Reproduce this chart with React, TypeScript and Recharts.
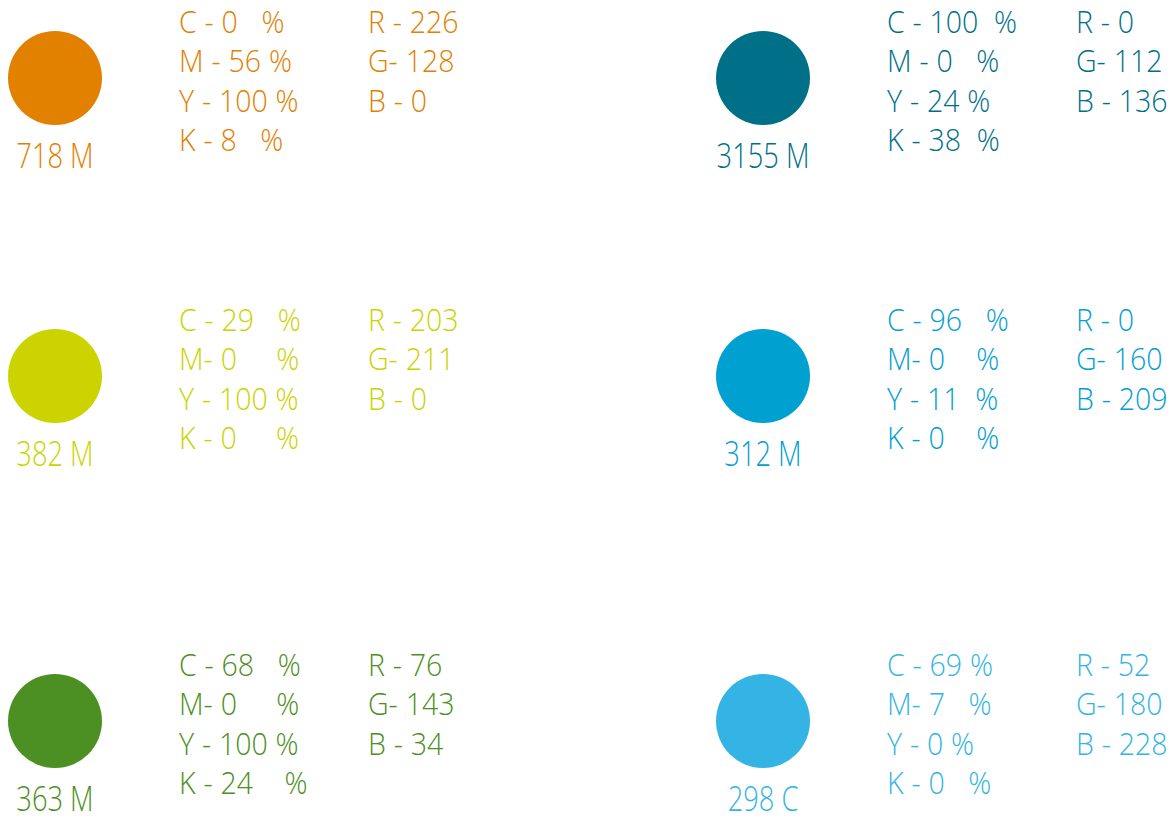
import React from 'react';
import { ScatterChart, Scatter, XAxis, YAxis } from 'recharts';

// swatch order: orange, teal, yellow, blue, green, light blue
const swatchNames = ['718 M', '3155 M', '382 M', '312 M', '363 M', '298 C'];
const gridCols = [0, 1, 0, 1, 0, 1];
const gridRows = [0, 0, 1, 1, 2, 2];
const redValues = [226, 0, 203, 0, 76, 52];
const greenValues = [128, 112, 211, 160, 143, 180];
const blueValues = [0, 136, 0, 209, 34, 228];
const cmykLabels = [
  ['C - 0   %', 'M - 56 %', 'Y - 100 %', 'K - 8   %'],
  ['C - 100  %', 'M - 0   %', 'Y - 24 %', 'K - 38  %'],
  ['C - 29   %', 'M- 0     %', 'Y - 100 %', 'K - 0     %'],
  ['C - 96   %', 'M- 0    %', 'Y - 11  %', 'K - 0    %'],
  ['C - 68   %', 'M- 0     %', 'Y - 100 %', 'K - 24    %'],
  ['C - 69 %', 'M- 7   %', 'Y - 0 %', 'K - 0   %'],
];

const swatches = swatchNames.map((name, i) => ({
  name,
  col: gridCols[i],
  row: gridRows[i],
  color: `rgb(${redValues[i]}, ${greenValues[i]}, ${blueValues[i]})`,
  cmyk: cmykLabels[i],
  rgb: [`R - ${redValues[i]}`, `G- ${greenValues[i]}`, `B - ${blueValues[i]}`],
}));

// one strip per row of swatches, stacked top to bottom
const rowHeights = [156, 440, 250];
const FONT = '"Open Sans", sans-serif';
const blockStyle = {
  fontFamily: FONT,
  fontSize: 31,
  fontWeight: 300,
  wordSpacing: 0.5,
  whiteSpace: 'pre',
} as const;

// text in the original is a narrow humanist face, so squeeze Open Sans horizontally
const Line = ({ x, y, fill, children }: any) => (
  <text transform={`translate(${x},${y}) scale(0.92,1)`} fill={fill} style={blockStyle}>
    {children}
  </text>
);

const Swatch = (props: any) => {
  const { cx, cy, payload } = props;
  const lineY = (i: number) => cy - 45 + i * 39.3;
  return (
    <g>
      <circle cx={cx} cy={cy} r={47} fill={payload.color} />
      <text
        transform={`translate(${cx},${cy + 90}) scale(0.79,1)`}
        textAnchor="middle"
        fill={payload.color}
        style={{ fontFamily: FONT, fontSize: 34.5, fontWeight: 300 }}
      >
        {payload.name}
      </text>
      {payload.cmyk.map((line: string, i: number) => (
        <Line key={'c' + i} x={cx + 124} y={lineY(i)} fill={payload.color}>
          {line}
        </Line>
      ))}
      {payload.rgb.map((line: string, i: number) => (
        <Line key={'r' + i} x={cx + 313} y={lineY(i)} fill={payload.color}>
          {line}
        </Line>
      ))}
    </g>
  );
};

export default function App() {
  return (
    <div style={{ width: 1176, height: 818, overflow: 'hidden', background: '#fff' }}>
      <style>{`body{margin:0;overflow:hidden}.recharts-surface{overflow:visible}`}</style>
      {rowHeights.map((h, r) => (
        <ScatterChart key={r} width={1176} height={h} margin={{ top: 0, right: 0, bottom: 0, left: 0 }}>
          <XAxis type="number" dataKey="col" domain={[0, 1]} padding={{ left: 55, right: 413 }} hide />
          <YAxis type="number" dataKey="row" domain={[r - 1, r + 1]} hide />
          <Scatter
            data={swatches.filter((s) => s.row === r)}
            shape={Swatch}
            isAnimationActive={false}
          />
        </ScatterChart>
      ))}
    </div>
  );
}
